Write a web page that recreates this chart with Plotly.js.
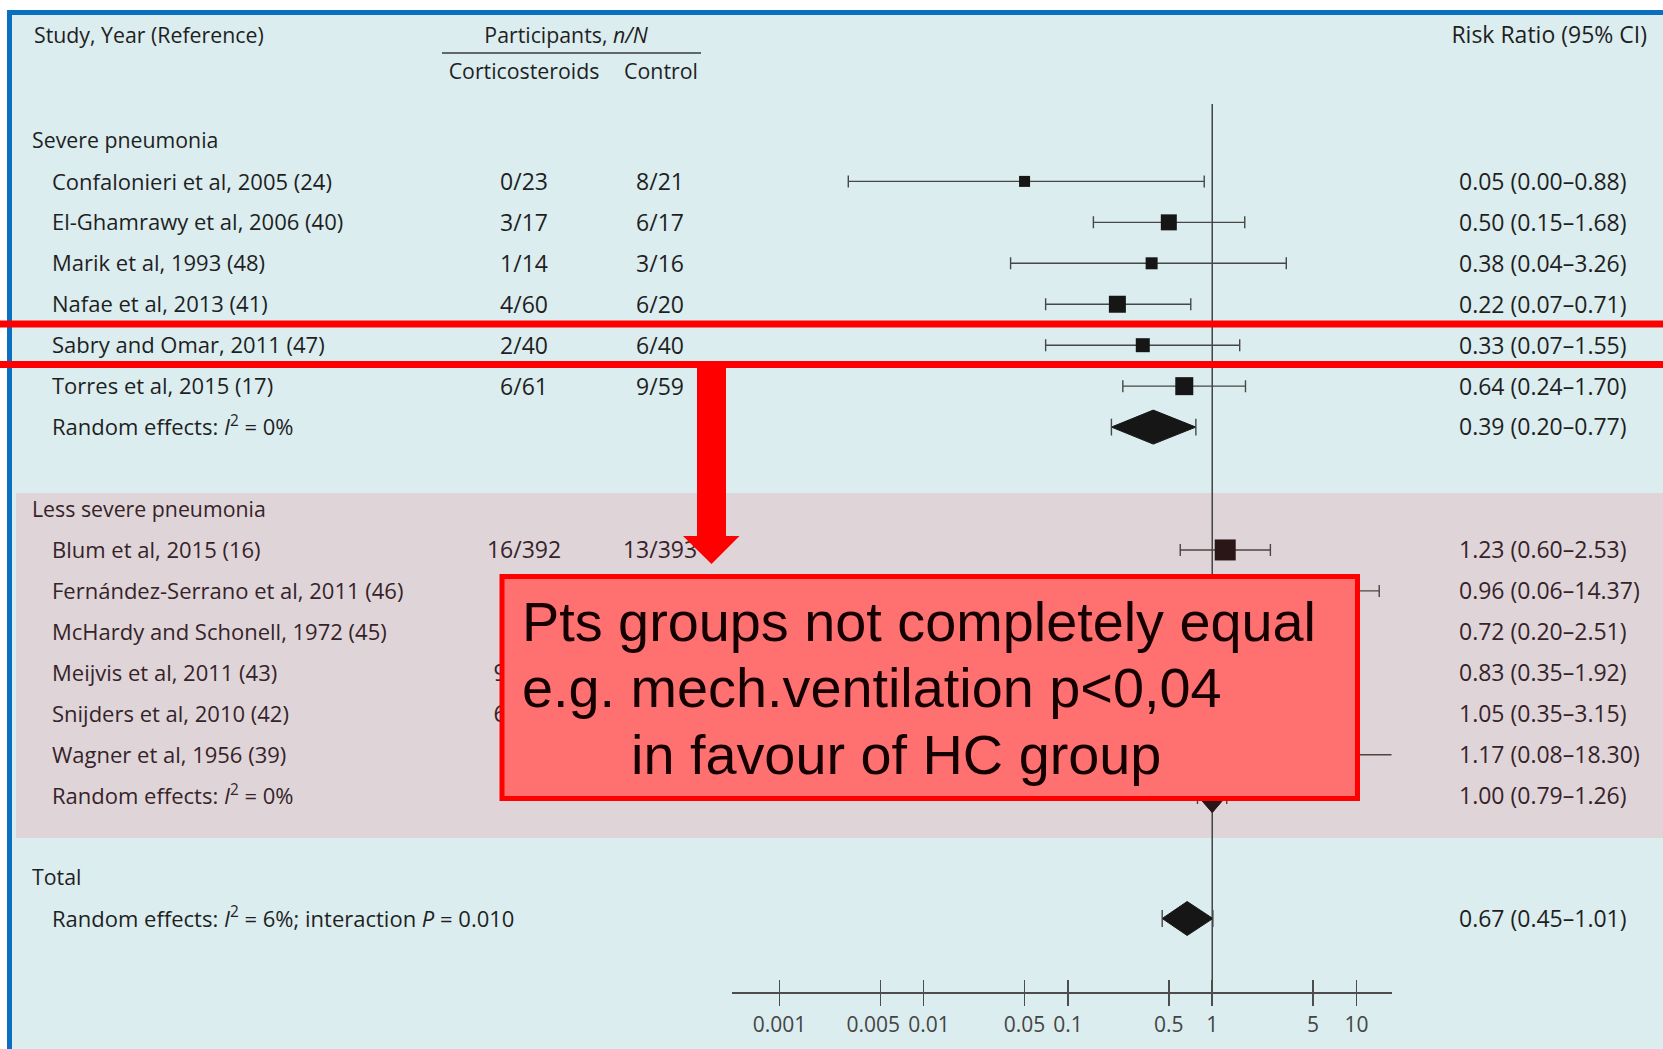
<!DOCTYPE html>
<html>
<head>
<meta charset="utf-8">
<script src="https://cdn.plot.ly/plotly-3.0.1.min.js"></script>
<style>
html,body{margin:0;padding:0;background:#ffffff;}
#chart{width:1663px;height:1049px;}
</style>
</head>
<body>
<div id="chart"></div>
<script>
// ================= DATA =================
const severeLabel = "Severe pneumonia";
const severeStudies = ["Confalonieri et al, 2005 (24)", "El-Ghamrawy et al, 2006 (40)", "Marik et al, 1993 (48)", "Nafae et al, 2013 (41)", "Sabry and Omar, 2011 (47)", "Torres et al, 2015 (17)"];
const severeCort = ["0/23", "3/17", "1/14", "4/60", "2/40", "6/61"];
const severeCtrl = ["8/21", "6/17", "3/16", "6/20", "6/40", "9/59"];
const severeRR = [0.05, 0.50, 0.38, 0.22, 0.33, 0.64];
const severeLo = [0.003, 0.15, 0.04, 0.07, 0.07, 0.24];
const severeHi = [0.88, 1.68, 3.26, 0.71, 1.55, 1.70];
const severeWeight = [11, 16, 12, 17, 14, 18];
const severePooled = [0.39, 0.20, 0.77];
const severeI2 = "0%";

const lessLabel = "Less severe pneumonia";
const lessStudies = ["Blum et al, 2015 (16)", "Fernández-Serrano et al, 2011 (46)", "McHardy and Schonell, 1972 (45)", "Meijvis et al, 2011 (43)", "Snijders et al, 2010 (42)", "Wagner et al, 1956 (39)"];
const lessCort = ["16/392", "1/23", "3/40", "9/151", "6/104", "1/52"];
const lessCtrl = ["13/393", "1/22", "5/48", "11/153", "6/109", "1/61"];
const lessRR = [1.23, 0.96, 0.72, 0.83, 1.05, 1.17];
const lessLo = [0.60, 0.06, 0.20, 0.35, 0.35, 0.08];
const lessHi = [2.53, 14.37, 2.51, 1.92, 3.15, 18.30];
const lessWeight = [21, 8, 13, 17, 15, 8];
const lessPooled = [1.00, 0.79, 1.26];
const lessI2 = "0%";

const totalLabel = "Total";
const totalPooled = [0.67, 0.45, 1.01];
const totalI2 = "6%";
const interactionP = "0.010";

const axisTicks = [0.001, 0.005, 0.01, 0.05, 0.1, 0.5, 1, 5, 10];
const axisTickLabels = ["0.001", "0.005", "0.01", "0.05", "0.1", "0.5", "1", "5", "10"];

const headStudy = "Study, Year (Reference)";
const headPart = "Participants, <i>n/N</i>";
const headCort = "Corticosteroids";
const headCtrl = "Control";
const headRR = "Risk Ratio (95% CI)";

const noteLines = ["Pts groups not completely equal", "e.g. mech.ventilation p<0,04", "in favour of HC group"];

// ================= GEOMETRY / STYLE =================
const W = 1663, H = 1049;
const ROW0 = 140.45, ROWH = 40.95;
const rowOf = p => (p - ROW0) / ROWH;
const TSHIFT = 2.6 / ROWH;           // text baseline nudge (rows)
const FONT = "'Open Sans', 'Noto Sans', sans-serif";
const FS = 22.0, FS_HEAD = 21.3, FS_NUM = 23;
const INK = "#1f1f1f", INK2 = "#36232a";
const LINE = "#474747", LINE2 = "#52413f";
const DH = 17 / ROWH;

const rowsSevere = severeStudies.map((_, i) => 1 + i);
const rowSevereRE = severeStudies.length + 1;
const rowLessLabel = rowSevereRE + 2;
const rowsLess = lessStudies.map((_, i) => rowLessLabel + 1 + i);
const rowLessRE = rowLessLabel + lessStudies.length + 1;
const rowTotalLabel = rowLessRE + 2;
const rowTotalRE = rowTotalLabel + 1;
const axisRow = rowOf(992);

const fmt = v => v.toFixed(2);
const rrText = (e, l, h) => `${fmt(e)} (${fmt(l)}–${fmt(h)})`;
const T = r => r + TSHIFT;

// column x (pixels on hidden linear axis x3)
const X_SECTION = 32, X_STUDY = 52, X_CORT = 524, X_CTRL = 660, X_RR = 1459;

const traces = [];

function studyTrace(rr, lo, hi, rows, sizes, mcol, lcol) {
  return {
    type: 'scatter', mode: 'markers', x: rr, y: rows, xaxis: 'x', yaxis: 'y',
    marker: {symbol: 'square', size: sizes, color: mcol, opacity: 1, line: {width: 0}},
    error_x: {type: 'data', symmetric: false,
      array: rr.map((v, i) => hi[i] - v), arrayminus: rr.map((v, i) => v - lo[i]),
      color: lcol, thickness: 1.4, width: 6},
    cliponaxis: false, hoverinfo: 'skip', showlegend: false
  };
}
function diamondTraces(p, r, fill, capc) {
  const [est, lo, hi] = p;
  return [
    {type: 'scatter', mode: 'lines', x: [lo, est, hi, est, lo], y: [r, r - DH, r, r + DH, r],
     fill: 'toself', fillcolor: fill, line: {color: fill, width: 1}, xaxis: 'x', yaxis: 'y',
     cliponaxis: false, hoverinfo: 'skip', showlegend: false},
    {type: 'scatter', mode: 'markers', x: [lo, hi], y: [r, r], xaxis: 'x', yaxis: 'y',
     marker: {symbol: 'line-ns', size: 12, opacity: 1, line: {width: 1.4, color: capc}},
     cliponaxis: false, hoverinfo: 'skip', showlegend: false}
  ];
}
function textTrace(xs, ys, texts, pos, color, size) {
  return {type: 'scatter', mode: 'text', x: xs, y: ys.map(T), text: texts, textposition: pos,
    textfont: {family: FONT, size: size || FS, color: color}, xaxis: 'x3', yaxis: 'y',
    cliponaxis: false, hoverinfo: 'skip', showlegend: false};
}

// forest marks
traces.push(studyTrace(severeRR, severeLo, severeHi, rowsSevere, severeWeight, '#161616', LINE));
traces.push(...diamondTraces(severePooled, rowSevereRE, '#161616', LINE));
traces.push(studyTrace(lessRR, lessLo, lessHi, rowsLess, lessWeight, '#2a1517', LINE2));
traces.push(...diamondTraces(lessPooled, rowLessRE, '#2a1517', LINE2));
traces.push(...diamondTraces(totalPooled, rowTotalRE, '#161616', LINE));
// dummy for overlay axis
traces.push({type: 'scatter', mode: 'markers', x: [1], y: [axisRow], xaxis: 'x2', yaxis: 'y',
  marker: {opacity: 0}, hoverinfo: 'skip', showlegend: false});

// table text
const hRowTop = rowOf(35), hRowSub = rowOf(71);
traces.push(textTrace([34], [hRowTop], [headStudy], 'middle right', INK, FS_HEAD));
traces.push(textTrace([566], [hRowTop], [headPart], 'middle center', INK, FS_HEAD));
traces.push(textTrace([X_CORT, 661], [hRowSub, hRowSub], [headCort, headCtrl], 'middle center', INK, FS_HEAD));
traces.push(textTrace([1647], [hRowTop], [headRR], 'middle left', INK, FS_NUM));

// severe section
traces.push(textTrace([X_SECTION], [0], [severeLabel], 'middle right', INK, FS_HEAD));
traces.push(textTrace(severeStudies.map(() => X_STUDY).concat([X_STUDY]), rowsSevere.concat([rowSevereRE]),
  severeStudies.concat([`Random effects: <i>I</i><sup>2</sup> = ${severeI2}`]), 'middle right', INK));
traces.push(textTrace(severeCort.map(() => X_CORT), rowsSevere, severeCort, 'middle center', INK, FS_NUM));
traces.push(textTrace(severeCtrl.map(() => X_CTRL), rowsSevere, severeCtrl, 'middle center', INK, FS_NUM));
traces.push(textTrace(severeRR.map(() => X_RR).concat([X_RR]), rowsSevere.concat([rowSevereRE]),
  severeRR.map((v, i) => rrText(v, severeLo[i], severeHi[i])).concat([rrText(...severePooled)]), 'middle right', INK, FS_NUM));

// less severe section
traces.push(textTrace([X_SECTION], [rowLessLabel], [lessLabel], 'middle right', INK2, FS_HEAD));
traces.push(textTrace(lessStudies.map(() => X_STUDY).concat([X_STUDY]), rowsLess.concat([rowLessRE]),
  lessStudies.concat([`Random effects: <i>I</i><sup>2</sup> = ${lessI2}`]), 'middle right', INK2));
traces.push(textTrace(lessCort.map(() => X_CORT), rowsLess, lessCort, 'middle center', INK2, FS_NUM));
traces.push(textTrace(lessCtrl.map(() => X_CTRL), rowsLess, lessCtrl, 'middle center', INK2, FS_NUM));
traces.push(textTrace(lessRR.map(() => X_RR).concat([X_RR]), rowsLess.concat([rowLessRE]),
  lessRR.map((v, i) => rrText(v, lessLo[i], lessHi[i])).concat([rrText(...lessPooled)]), 'middle right', INK2, FS_NUM));

// total
traces.push(textTrace([X_SECTION], [rowTotalLabel], [totalLabel], 'middle right', INK, FS_HEAD));
traces.push(textTrace([X_STUDY], [rowTotalRE],
  [`Random effects: <i>I</i><sup>2</sup> = ${totalI2}; interaction <i>P</i> = ${interactionP}`], 'middle right', INK));
traces.push(textTrace([X_RR], [rowTotalRE], [rrText(...totalPooled)], 'middle right', INK, FS_NUM));

// ================= LAYOUT =================
const px = x => x / W, py = y => 1 - y / H;
const P = (x, y) => `${px(x)},${py(y)}`;
const rectPx = (x0, y0, x1, y1, fill, layer, line) => ({type: 'rect', xref: 'paper', yref: 'paper',
  x0: px(x0), x1: px(x1), y0: py(y1), y1: py(y0), fillcolor: fill, line: line || {width: 0}, layer: layer || 'below'});

const shapes = [
  rectPx(12, 15, W, H, '#dbedef'),
  rectPx(16, 493, W, 838, '#dfd5d8'),
  rectPx(7, 10, W, 15, '#0a6fbf'),
  rectPx(7, 10, 12, H, '#0a6fbf'),
  {type: 'line', xref: 'paper', yref: 'paper', x0: px(442), x1: px(701), y0: py(53), y1: py(53),
   line: {color: '#3a3a3a', width: 1.5}, layer: 'below'},
  {type: 'line', xref: 'x', yref: 'y', x0: 1, x1: 1, y0: rowOf(104), y1: axisRow,
   line: {color: '#444444', width: 1.5}, layer: 'below'},
  // overlays (annotation drawing)
  {type: 'line', xref: 'paper', yref: 'paper', x0: 0, x1: 1, y0: py(324), y1: py(324),
   line: {color: '#ff0000', width: 7}, layer: 'above'},
  {type: 'line', xref: 'paper', yref: 'paper', x0: 0, x1: 1, y0: py(364.5), y1: py(364.5),
   line: {color: '#ff0000', width: 7}, layer: 'above'},
  rectPx(697, 364, 726, 537, '#ff0000', 'above'),
  {type: 'path', xref: 'paper', yref: 'paper', path: `M${P(683, 536)} L${P(739.5, 536)} L${P(711.5, 564)} Z`,
   fillcolor: '#ff0000', line: {width: 0}, layer: 'above'},
  rectPx(502, 576.5, 1357.5, 798.5, '#ff7171', 'above', {color: '#ff0000', width: 5})
];

const NOTE_FONT = {family: "'Liberation Sans', Arial, sans-serif", size: 55.8, color: '#140000'};
const annotations = [
  {xref: 'paper', yref: 'paper', x: px(520), y: py(621), xanchor: 'left', yanchor: 'middle', text: noteLines[0], showarrow: false, font: NOTE_FONT},
  {xref: 'paper', yref: 'paper', x: px(520), y: py(688), xanchor: 'left', yanchor: 'middle', text: noteLines[1].replace('<', '&lt;'), showarrow: false, font: NOTE_FONT},
  {xref: 'paper', yref: 'paper', x: px(629), y: py(754), xanchor: 'left', yanchor: 'middle', text: noteLines[2], showarrow: false, font: NOTE_FONT}
];

// small horizontal nudges so the crowded tick labels separate (display only)
const tickDisplay = axisTickLabels.map(t => t === "0.005" ? t + "\u2002\u2009" : (t === "0.01" ? "\u2002" + t : t));

const xRange = [-3.329, 1.2426];
const layout = {
  width: W, height: H,
  margin: {l: 0, r: 0, t: 0, b: 0, pad: 0},
  paper_bgcolor: '#ffffff', plot_bgcolor: 'rgba(0,0,0,0)',
  showlegend: false, hovermode: false,
  xaxis: {type: 'log', domain: [px(732), px(1391.5)], range: xRange, anchor: 'free', position: 1 - 992 / H,
    showline: true, linecolor: '#4d4d4d', linewidth: 1.5, ticks: 'outside', ticklen: 12, tickwidth: 1.5,
    tickcolor: '#4d4d4d', tickmode: 'array', tickvals: axisTicks, ticktext: tickDisplay, tickangle: 0,
    tickfont: {family: FONT, size: 21, color: '#444444'}, ticklabelstandoff: 1,
    showgrid: false, zeroline: false, fixedrange: true},
  xaxis2: {type: 'log', overlaying: 'x', range: xRange, anchor: 'free', position: 1 - 992 / H,
    showline: false, ticks: 'inside', ticklen: 12, tickwidth: 1.5, tickcolor: '#4d4d4d',
    tickmode: 'array', tickvals: axisTicks, showticklabels: false, showgrid: false, zeroline: false, fixedrange: true},
  xaxis3: {domain: [0, 1], range: [0, W], anchor: 'y', visible: false, fixedrange: true},
  yaxis: {domain: [0, 1], range: [(H - ROW0) / ROWH, -ROW0 / ROWH], visible: false, fixedrange: true},
  shapes: shapes,
  annotations: annotations
};

Plotly.newPlot('chart', traces, layout, {displayModeBar: false, staticPlot: true});
</script>
</body>
</html>
